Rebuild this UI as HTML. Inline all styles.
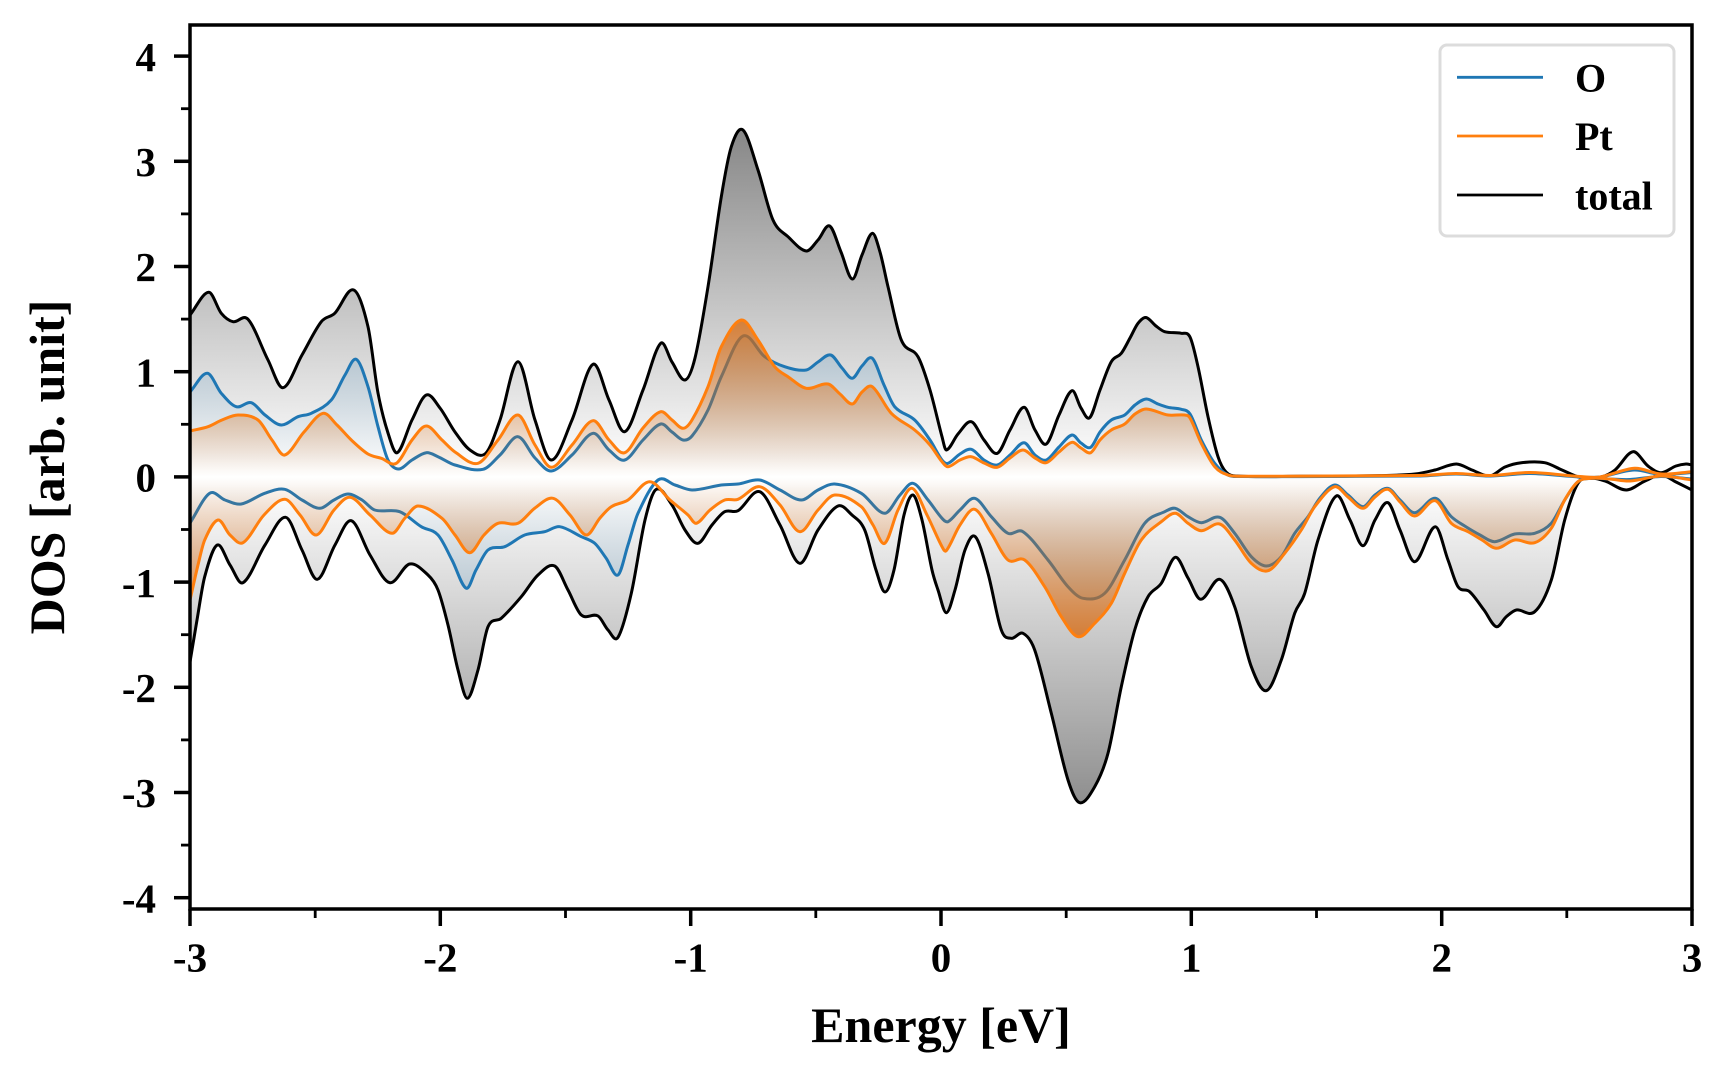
<!DOCTYPE html>
<html>
<head>
<meta charset="utf-8">
<style>
html,body{margin:0;padding:0;background:#fff;}
svg{display:block;}
text{font-family:"Liberation Serif","Times New Roman",serif;font-weight:bold;fill:#000;}
</style>
</head>
<body>
<svg id="chart" width="1728" height="1080" viewBox="0 0 1728 1080" xmlns="http://www.w3.org/2000/svg">
<defs>
<clipPath id="clip"><rect x="190" y="25" width="1502" height="884"/></clipPath>
<linearGradient id="gT" gradientUnits="userSpaceOnUse" x1="0" y1="130" x2="0" y2="824">
<stop offset="0" stop-color="#878787"/>
<stop offset="0.49" stop-color="#ffffff"/>
<stop offset="0.51" stop-color="#ffffff"/>
<stop offset="1" stop-color="#878787"/>
</linearGradient>
<linearGradient id="gO" gradientUnits="userSpaceOnUse" x1="0" y1="130" x2="0" y2="824">
<stop offset="0" stop-color="#1f77b4" stop-opacity="0.5"/>
<stop offset="0.5" stop-color="#1f77b4" stop-opacity="0"/>
<stop offset="1" stop-color="#1f77b4" stop-opacity="0.5"/>
</linearGradient>
<linearGradient id="gP" gradientUnits="userSpaceOnUse" x1="0" y1="130" x2="0" y2="824">
<stop offset="0" stop-color="#d86a10" stop-opacity="0.82"/>
<stop offset="0.273" stop-color="#d86a10" stop-opacity="0.78"/>
<stop offset="0.5" stop-color="#d86a10" stop-opacity="0"/>
<stop offset="0.727" stop-color="#d86a10" stop-opacity="0.78"/>
<stop offset="1" stop-color="#d86a10" stop-opacity="0.82"/>
</linearGradient>
</defs>

<g id="plot" clip-path="url(#clip)"></g>

<!-- spines -->
<rect x="190" y="25" width="1502" height="884" fill="none" stroke="#000" stroke-width="3.5"/>

<!-- y ticks -->
<g stroke="#000" stroke-width="3.5">
<line x1="174" y1="56.1" x2="190" y2="56.1"/>
<line x1="174" y1="161.3" x2="190" y2="161.3"/>
<line x1="174" y1="266.5" x2="190" y2="266.5"/>
<line x1="174" y1="371.7" x2="190" y2="371.7"/>
<line x1="174" y1="476.9" x2="190" y2="476.9"/>
<line x1="174" y1="582.1" x2="190" y2="582.1"/>
<line x1="174" y1="687.3" x2="190" y2="687.3"/>
<line x1="174" y1="792.5" x2="190" y2="792.5"/>
<line x1="174" y1="897.7" x2="190" y2="897.7"/>
</g>
<g stroke="#000" stroke-width="2.8">
<line x1="181" y1="108.7" x2="190" y2="108.7"/>
<line x1="181" y1="213.9" x2="190" y2="213.9"/>
<line x1="181" y1="319.1" x2="190" y2="319.1"/>
<line x1="181" y1="424.3" x2="190" y2="424.3"/>
<line x1="181" y1="529.5" x2="190" y2="529.5"/>
<line x1="181" y1="634.7" x2="190" y2="634.7"/>
<line x1="181" y1="739.9" x2="190" y2="739.9"/>
<line x1="181" y1="845.1" x2="190" y2="845.1"/>
</g>
<!-- x ticks -->
<g stroke="#000" stroke-width="3.5">
<line x1="190" y1="909" x2="190" y2="926"/>
<line x1="440.3" y1="909" x2="440.3" y2="926"/>
<line x1="690.7" y1="909" x2="690.7" y2="926"/>
<line x1="941" y1="909" x2="941" y2="926"/>
<line x1="1191.3" y1="909" x2="1191.3" y2="926"/>
<line x1="1441.7" y1="909" x2="1441.7" y2="926"/>
<line x1="1692" y1="909" x2="1692" y2="926"/>
</g>
<g stroke="#000" stroke-width="2.8">
<line x1="315.2" y1="909" x2="315.2" y2="918"/>
<line x1="565.5" y1="909" x2="565.5" y2="918"/>
<line x1="815.8" y1="909" x2="815.8" y2="918"/>
<line x1="1066.2" y1="909" x2="1066.2" y2="918"/>
<line x1="1316.5" y1="909" x2="1316.5" y2="918"/>
<line x1="1566.8" y1="909" x2="1566.8" y2="918"/>
</g>

<!-- y tick labels -->
<g font-size="41" text-anchor="end">
<text x="156" y="70.8">4</text>
<text x="156" y="176">3</text>
<text x="156" y="281.2">2</text>
<text x="156" y="386.4">1</text>
<text x="156" y="491.6">0</text>
<text x="156" y="596.8">-1</text>
<text x="156" y="702">-2</text>
<text x="156" y="807.2">-3</text>
<text x="156" y="912.4">-4</text>
</g>
<!-- x tick labels -->
<g font-size="41" text-anchor="middle">
<text x="190" y="971.5">-3</text>
<text x="440.3" y="971.5">-2</text>
<text x="690.7" y="971.5">-1</text>
<text x="941" y="971.5">0</text>
<text x="1191.3" y="971.5">1</text>
<text x="1441.7" y="971.5">2</text>
<text x="1692" y="971.5">3</text>
</g>

<!-- axis labels -->
<text x="941" y="1042" font-size="50" text-anchor="middle">Energy [eV]</text>
<text transform="translate(64,467) rotate(-90)" x="0" y="0" font-size="50" text-anchor="middle">DOS [arb. unit]</text>

<!-- legend -->
<rect x="1440" y="45" width="234" height="191" rx="7" ry="7" fill="#fff" fill-opacity="0.9" stroke="#dcdcdc" stroke-width="3"/>
<line x1="1457" y1="77.3" x2="1543" y2="77.3" stroke="#1f77b4" stroke-width="2.8"/>
<line x1="1457" y1="136" x2="1543" y2="136" stroke="#ff7f0e" stroke-width="2.8"/>
<line x1="1457" y1="195" x2="1543" y2="195" stroke="#000" stroke-width="2.8"/>
<text x="1575" y="91.7" font-size="40">O</text>
<text x="1575" y="150" font-size="40">Pt</text>
<text x="1575" y="209.3" font-size="40">total</text>
</svg>

<script>
(function(){
var Y0=476.9;
var TU=[[190,315],[208.7,292.3],[221.3,313.3],[233,321.7],[248,319.3],[268,360],[283,387.7],[302,355],[321.3,321.7],[334.7,313.3],[353.7,290],[368,326.7],[378,393],[388,433],[397.3,452.7],[412,420],[426.3,395],[440,408],[455,432],[470,450],[486,453],[500,420],[518,361.7],[535,420],[551.3,460],[572,420],[593,364.3],[609,400],[624.7,431.7],[643,390],[660.7,343.3],[672,362],[685,380],[695,358],[708,286.7],[721.3,196.7],[731.3,146.7],[743,130],[758,170],[773,220],[788,236.7],[806.3,251],[818,240],[829.7,226],[841,252],[852.3,279],[862,255],[872.3,233.3],[880,252],[888,286.7],[901.3,340],[918,356.7],[930,390],[942,436.7],[946.3,450],[958,434],[971.3,421.7],[984,440],[997.3,453.3],[1010,430],[1024,407.3],[1035,430],[1046.3,444],[1059,415],[1072,390.7],[1081,408],[1089.7,417.7],[1100,390],[1111.3,361.7],[1121.3,353.3],[1130,338],[1138,323.3],[1146,317.5],[1156,326],[1164.7,331.7],[1181.3,333.3],[1190,337],[1198,366.7],[1208,416.7],[1218,456.7],[1226,472],[1236,476],[1300,476.3],[1380,475.6],[1415,474],[1435,470],[1456.3,464],[1472,470],[1489.7,476],[1505,467],[1521.3,462.7],[1544.7,462.7],[1562,470],[1581.3,477.7],[1601,477],[1615,470],[1633,451.7],[1648,466],[1661,472.7],[1676,466],[1686,464],[1692,465]];
var TD=[[190,662],[197,620],[204.7,576.7],[217.3,545],[230,565],[243,582.7],[265,545],[285.7,517.3],[302,550],[317.3,579.3],[335,545],[351.3,520.7],[370,555],[389.7,582.7],[409.7,564],[428,575],[438,590],[448,625],[458,670],[467.3,698.3],[478,670],[488,626.7],[501.3,618.3],[521.3,596.7],[538,575],[554.7,566],[568,590],[581.3,615],[598,616],[608,630],[618,637.3],[631.3,593.3],[645,520],[656.3,489.3],[672,505],[685,530],[698,543.3],[712,525],[724.7,511.7],[738,510.7],[759.7,491.7],[780,525],[799.7,563.3],[818,530],[838,506],[852,515],[864.7,530],[876,570],[885,592],[894,570],[904,515],[913,495],[922,520],[932,570],[938,590],[946.3,612.7],[955,590],[965,550],[975.3,536.7],[988,573.3],[1001.3,630],[1011.3,638.3],[1023,633.3],[1034.7,650],[1051.3,713.3],[1068,780],[1079.7,802.7],[1094.7,786.7],[1108,753.3],[1121.3,686.7],[1134.7,630],[1148,596.7],[1161.3,583.3],[1175.3,557.3],[1188,578],[1200.7,599.3],[1219.7,579.3],[1234.7,606.7],[1251.3,666.7],[1266.3,690.7],[1281.3,660],[1294.7,613.3],[1304.7,593.3],[1318,540],[1336.3,496],[1350,520],[1363,545.7],[1375,520],[1388,502.7],[1400,530],[1414.7,561.7],[1435.3,526.7],[1448,560],[1458,586.7],[1469.7,591.7],[1484,610],[1496.3,626.7],[1506,617],[1516.3,610],[1534.7,611.7],[1551.3,580],[1564.7,520],[1578,483.3],[1591.3,478.3],[1605,481],[1626.3,490],[1645,481],[1661.3,475],[1676,482],[1692,490]];
var OU=[[190,392],[207.3,373.3],[221.3,393.3],[236.3,406.7],[251.3,402.7],[265,415],[281.3,425],[298,416.7],[311.3,413.3],[331.3,400],[345,375],[356.3,359.3],[368,386.7],[378,426.7],[388,460],[398.7,469],[412,460],[426.3,452.7],[438,456.7],[455,465],[483,469.3],[500,455],[518,436.7],[535,458],[551.3,471],[572,455],[593,433.3],[609,450],[624.7,460],[643,440],[660.7,424],[672,432],[683,440],[692,436],[708,410],[721.3,376.7],[743,336],[764.7,356.7],[784.7,366.7],[806.3,370],[818,362],[830.7,355],[842,368],[852.3,378.3],[862,366],[872.3,358.3],[884,385],[894.7,406.7],[914.7,420],[930,440],[942,460],[948,463.3],[960,454],[971.3,449.3],[984,460],[997.3,465],[1010,455],[1024,442.7],[1035,455],[1046.3,460],[1059,447],[1072,435],[1081,443],[1090.7,447.3],[1100,432],[1111.3,420],[1124.7,415],[1135,405],[1146.3,399],[1158,404],[1168,407.3],[1181.3,409.3],[1190,414],[1201.3,440],[1214.7,463.3],[1228,475],[1240,476.5],[1420,476],[1456,474],[1490,476],[1530,473.5],[1580,477],[1600,477],[1634,470],[1661,474.5],[1692,472.5]];
var PU=[[190,431],[208,426.7],[222,420],[238,415],[258,420],[272,440],[284.7,455],[304,432],[323,413.3],[337,425],[351.3,440],[368,454],[381.3,458.3],[396.3,463.3],[412,440],[426.3,426],[442,440],[455,452],[478,463.3],[498,440],[518,415],[535,445],[551.3,467.3],[572,445],[593,420.7],[609,440],[624.7,452.7],[643,428],[660.7,411.7],[672,420],[683,428.3],[692,420],[708,386.7],[721.3,346.7],[741.3,320],[758,340],[774.7,366.7],[788,376.7],[806.3,388.3],[828,384],[840,394],[852.3,404],[862,392],[872.3,386.7],[891.3,413.3],[914.7,430],[930,445],[942,461.7],[948,466.7],[960,460],[971.3,456.7],[984,463],[997.3,467.3],[1010,458],[1023,450],[1035,458],[1046.3,462.7],[1059,452],[1072,442.3],[1081,448],[1090.7,452.7],[1100,440],[1111.3,430],[1124.7,424],[1135,414],[1146.3,409],[1168,415],[1184.7,415],[1190,418],[1201.3,443.3],[1214.7,466.7],[1228,475],[1240,476.2],[1420,475.5],[1456,473.5],[1490,475.5],[1530,472.5],[1580,476.5],[1600,477],[1634.7,468.3],[1661,474],[1692,471.7]];
var OD=[[190,523],[209.7,493.3],[225,500],[241.3,504],[264.7,493.3],[284.7,489.3],[302,500],[319.7,508.3],[334,500],[348,494],[362,500],[374.7,510],[399.7,511.7],[421.3,526.7],[438,535],[452,560],[466.3,588.3],[476,570],[488,550],[504.7,546.7],[524.7,535],[544.7,531.7],[559.7,526.7],[581.3,536.7],[594.7,543.3],[606,558],[618,575],[628,545],[638,513.3],[658,480],[675,485],[692,490],[721.3,485],[738,484],[759.7,480],[780,490],[801.3,500],[818,490],[834.7,484],[861.3,493.3],[884.7,513.3],[900,495],[913,483.3],[928,500],[942,518.3],[948,521.7],[960,510],[974.7,498.3],[991.3,516.7],[1008,533.3],[1023,531.7],[1048,560],[1068,586.7],[1083,598.3],[1104.7,593.3],[1124.7,560],[1144.7,523.3],[1164.7,511.7],[1175.3,508.3],[1188,516.7],[1201.3,522.7],[1219.7,517.3],[1234.7,533.3],[1251.3,556.7],[1266.3,566],[1281.3,556.7],[1294.7,533.3],[1308,516.7],[1320,498],[1334.7,485],[1348,495],[1363,506.7],[1375,495],[1388,488.3],[1400,500],[1414.7,512.7],[1435.3,498.3],[1451.3,516.7],[1464.7,526],[1480,535],[1494.7,541.7],[1514.7,534],[1534.7,533.3],[1551.3,523.3],[1564.7,500],[1578,481.7],[1591.3,478.3],[1610,479],[1630,479.5],[1661,476.5],[1692,479]];
var PD=[[190,600],[198,565],[204.7,540],[218,520],[230,535],[243,542.7],[264,515],[284.7,499.3],[300,515],[316.3,535],[334,510],[350.3,497.3],[370,515],[392,533.3],[405,518],[418,506],[442,518.3],[455,535],[469.7,552.7],[484,535],[498,523.3],[518,523.3],[535,508],[553,498.3],[570,515],[586.3,535],[600,518],[611.3,506.7],[628,500],[649.7,481.7],[670,500],[688,515],[696.3,523.3],[710,510],[724.7,500],[738,499.3],[759.7,486.7],[780,505],[799.7,531.7],[818,510],[834.7,495],[861.3,506.7],[873,525],[884.7,543.3],[898,510],[912,488.3],[927,515],[942,546.7],[946.3,550.7],[960,525],[974.7,509.3],[991.3,533.3],[1008,560],[1024.7,560],[1044.7,586.7],[1061.3,616.7],[1078,636.7],[1094.7,623.3],[1111.3,603.3],[1124.7,573.3],[1141.3,540],[1161.3,521.7],[1175.3,513.3],[1188,523.3],[1201.3,530.7],[1219.7,524],[1234.7,540],[1251.3,563.3],[1268,570.7],[1284.7,553.3],[1301.3,530],[1314.7,506.7],[1334.7,486.7],[1348,497],[1363,508.3],[1375,497],[1388,489.3],[1400,502],[1414.7,516],[1435.3,500.7],[1451.3,523.3],[1468,531.7],[1482,540],[1496.3,548.3],[1514.7,540],[1534.7,542.7],[1551.3,528.3],[1564.7,500],[1578,481.7],[1591.3,478.3],[1610,479],[1630,481],[1661,476],[1692,480]];

function slopes(p){
  var n=p.length,m=[];
  for(var i=0;i<n;i++){
    if(i===0) m.push((p[1][1]-p[0][1])/(p[1][0]-p[0][0]));
    else if(i===n-1) m.push((p[n-1][1]-p[n-2][1])/(p[n-1][0]-p[n-2][0]));
    else m.push((p[i+1][1]-p[i-1][1])/(p[i+1][0]-p[i-1][0]));
  }
  return m;
}
function spline(p){
  var m=slopes(p);
  var d='M'+p[0][0]+','+p[0][1];
  for(var i=0;i<p.length-1;i++){
    var dx=(p[i+1][0]-p[i][0])/3;
    var c1x=p[i][0]+dx,c1y=p[i][1]+m[i]*dx;
    var c2x=p[i+1][0]-dx,c2y=p[i+1][1]-m[i+1]*dx;
    d+='C'+c1x.toFixed(2)+','+c1y.toFixed(2)+' '+c2x.toFixed(2)+','+c2y.toFixed(2)+' '+p[i+1][0]+','+p[i+1][1];
  }
  return d;
}
function fillPath(p){
  return spline(p)+'L'+p[p.length-1][0]+','+Y0+'L'+p[0][0]+','+Y0+'Z';
}
var NS='http://www.w3.org/2000/svg';
var g=document.getElementById('plot');
function add(d,attrs){
  var e=document.createElementNS(NS,'path');
  e.setAttribute('d',d);
  for(var k in attrs) e.setAttribute(k,attrs[k]);
  g.appendChild(e);
}
var lw='3';
add(fillPath(TU),{fill:'url(#gT)',stroke:'none'});
add(fillPath(TD),{fill:'url(#gT)',stroke:'none'});
add(spline(TU),{fill:'none',stroke:'#000','stroke-width':lw,'stroke-linejoin':'round'});
add(spline(TD),{fill:'none',stroke:'#000','stroke-width':lw,'stroke-linejoin':'round'});
add(fillPath(OU),{fill:'url(#gO)',stroke:'none'});
add(fillPath(OD),{fill:'url(#gO)',stroke:'none'});
add(spline(OU),{fill:'none',stroke:'#1f77b4','stroke-width':lw,'stroke-linejoin':'round'});
add(spline(OD),{fill:'none',stroke:'#1f77b4','stroke-width':lw,'stroke-linejoin':'round'});
add(fillPath(PU),{fill:'url(#gP)',stroke:'none'});
add(fillPath(PD),{fill:'url(#gP)',stroke:'none'});
add(spline(PU),{fill:'none',stroke:'#ff7f0e','stroke-width':lw,'stroke-linejoin':'round'});
add(spline(PD),{fill:'none',stroke:'#ff7f0e','stroke-width':lw,'stroke-linejoin':'round'});
})();
</script>
</body>
</html>
